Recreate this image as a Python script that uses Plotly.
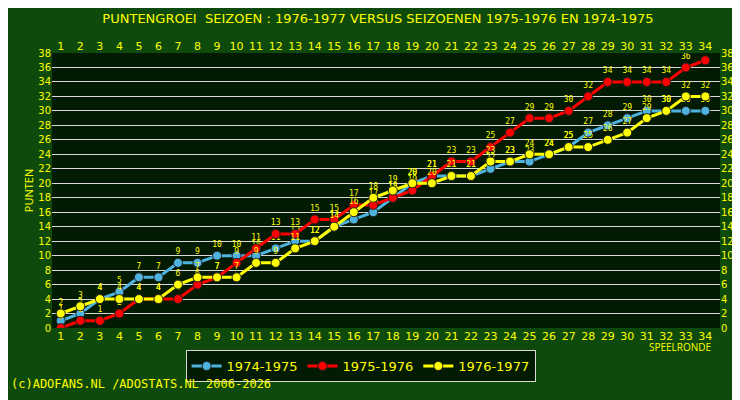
import plotly.graph_objects as go

rounds = list(range(1, 35))
s7475 = [1,2,4,5,7,7,9,9,10,10,10,11,12,12,14,15,16,18,20,21,21,21,22,23,23,24,25,27,28,29,30,30,30,30]
s7576 = [0,1,1,2,4,4,4,6,7,9,11,13,13,15,15,17,17,18,19,21,23,23,25,27,29,29,30,32,34,34,34,34,36,37]
s7677 = [2,3,4,4,4,4,6,7,7,7,9,9,11,12,14,16,18,19,20,20,21,21,23,23,24,24,25,25,26,27,29,30,32,32]
names = ["1974-1975", "1975-1976", "1976-1977"]
colors = ["#4fb3e0", "#ff0000", "#ffff00"]
yticks = list(range(0, 39, 2))

fig = go.Figure()
for name, vals, c in zip(names, [s7475, s7576, s7677], colors):
    fig.add_trace(go.Scatter(
        x=rounds, y=vals, name=name, mode="lines+markers+text",
        line=dict(color=c, width=3),
        marker=dict(color=c, size=9, line=dict(color="#202020", width=1)),
        text=[str(v) for v in vals], textposition="top center",
        textfont=dict(color="#ffff00", size=8, family="DejaVu Sans Mono"),
    ))
fig.add_trace(go.Scatter(x=rounds, y=s7576, xaxis="x2", yaxis="y2",
                         mode="markers", marker=dict(opacity=0), showlegend=False, hoverinfo="skip"))

tickfont = dict(color="#ffff00", size=11, family="DejaVu Sans")
ytickfont = dict(color="#ffff00", size=10, family="DejaVu Sans")
fig.update_layout(
    width=740, height=400,
    paper_bgcolor="#0d4a0b", plot_bgcolor="#031a03",
    margin=dict(l=44, r=28, t=45, b=80),
    title=dict(text="PUNTENGROEI  SEIZOEN : 1976-1977 VERSUS SEIZOENEN 1975-1976 EN 1974-1975",
               x=0.5, y=0.985, yanchor="top",
               font=dict(color="#ffff00", size=13, family="DejaVu Sans")),
    xaxis=dict(range=[0.55, 34.75], tickvals=rounds, tickfont=tickfont, showgrid=False,
               zeroline=False, showline=False, ticks=""),
    xaxis2=dict(range=[0.55, 34.75], tickvals=rounds, tickfont=tickfont, overlaying="x",
                side="top", showgrid=False, zeroline=False, ticks=""),
    yaxis=dict(range=[0, 38], tickvals=yticks, tickfont=ytickfont, gridcolor="#d8d8d8",
               gridwidth=1, zeroline=False, ticks="",
               title=dict(text="PUNTEN", font=dict(color="#ffff00", size=11), standoff=2)),
    yaxis2=dict(range=[0, 38], tickvals=yticks, tickfont=ytickfont, overlaying="y",
                side="right", showgrid=False, zeroline=False, ticks=""),
    legend=dict(orientation="h", x=0.2, y=-0.08, xanchor="left", yanchor="top",
                bgcolor="#031a03", bordercolor="#d8d8d8", borderwidth=1,
                font=dict(color="#ffff00", size=13, family="DejaVu Sans")),
    showlegend=True,
)
fig.add_annotation(text="SPEELRONDE", xref="paper", yref="paper", x=0.99, y=-0.1,
                   showarrow=False, font=dict(color="#ffff00", size=10), xanchor="right")
fig.add_annotation(text="(c)ADOFANS.NL /ADOSTATS.NL 2006-2026", xref="paper", yref="paper",
                   x=-0.065, y=-0.235, xanchor="left", showarrow=False,
                   font=dict(color="#ffff00", size=12, family="DejaVu Sans Mono"))
fig.write_html("out.html")
